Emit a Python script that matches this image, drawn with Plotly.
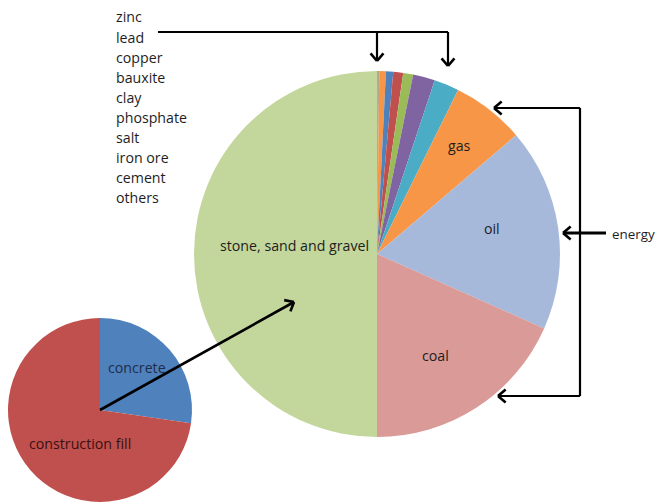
import math
import plotly.graph_objects as go

W, H = 657, 504

# Main pie: share of mined material (%), clockwise from 12 o'clock
minerals = ["zinc", "lead", "copper", "bauxite", "clay", "phosphate",
            "salt", "iron ore", "cement", "others"]
mineral_values = [0.05, 0.05, 0.05, 0.05, 0.58, 0.64, 0.87, 0.88, 1.94, 2.2]
mineral_colors = ["#7F7F7F", "#A5A08A", "#8C7A5B", "#B08E6B", "#F79646",
                  "#4F81BD", "#C0504D", "#9BBB59", "#8064A2", "#4BACC6"]

energy = ["gas", "oil", "coal"]
energy_values = [6.44, 17.92, 18.33]
energy_colors = ["#F79646", "#A7B9DB", "#D99A98"]

bulk = ["stone, sand and gravel"]
bulk_values = [50.0]
bulk_colors = ["#C3D69B"]

# Small pie: breakdown of stone, sand and gravel use
uses = ["concrete", "construction fill"]
use_values = [27.3, 72.7]
use_colors = ["#4F81BD", "#C0504D"]


def px(x):
    return x / W


def py(y):
    return 1 - y / H


fig = go.Figure()

fig.add_trace(go.Pie(
    labels=minerals + energy + bulk,
    values=mineral_values + energy_values + bulk_values,
    marker=dict(colors=mineral_colors + energy_colors + bulk_colors,
                line=dict(width=0)),
    sort=False, direction="clockwise", rotation=0,
    textinfo="none", hoverinfo="label+percent", showlegend=False,
    domain=dict(x=[px(194), px(560)], y=[py(437), py(71)]),
))

fig.add_trace(go.Pie(
    labels=uses, values=use_values,
    marker=dict(colors=use_colors, line=dict(width=0)),
    sort=False, direction="clockwise", rotation=0,
    textinfo="none", hoverinfo="label+percent", showlegend=False,
    domain=dict(x=[px(8), px(192)], y=[py(502), py(318)]),
))

FONT = "Open Sans, Lato, sans-serif"
annotations = []


def label(text, x, y, size=14.2, color="#1E1E1E", anchor="center"):
    annotations.append(dict(
        text=text, x=px(x), y=py(y), xref="paper", yref="paper",
        showarrow=False, xanchor=anchor, yanchor="middle",
        font=dict(family=FONT, size=size, color=color)))


# Mineral name list at top-left
for i, name in enumerate(minerals):
    label(name, 114, 17 + i * 20.1, anchor="left")

# Slice labels
label("gas", 459, 145)
label("oil", 492, 229)
label("coal", 435, 355)
label("stone, sand and gravel", 294, 245)
label("concrete", 137, 367, color="#1F2D4A")
label("construction fill", 80, 443, color="#3A1010")
label("energy", 610, 234, size=13.4, anchor="left")

shapes = []


def seg(x0, y0, x1, y1, w=2.2):
    shapes.append(dict(type="line", xref="paper", yref="paper",
                       x0=px(x0), y0=py(y0), x1=px(x1), y1=py(y1),
                       line=dict(color="black", width=w)))


def arrow_head(tx, ty, fx, fy, size=10, spread=40, w=2.6):
    # open chevron at (tx, ty), pointing away from (fx, fy)
    ang = math.atan2(ty - fy, tx - fx)
    for s in (-1, 1):
        a = ang + math.pi + s * math.radians(spread)
        seg(tx, ty, tx + size * math.cos(a), ty + size * math.sin(a), w)


# Bracket pointing at the small mineral slices
seg(158, 32, 448, 32)
seg(377, 32, 377, 61)
arrow_head(377, 61, 377, 32)
seg(448, 32, 448, 66)
arrow_head(448, 66, 448, 32)

# Energy bracket
seg(580, 108, 580, 396)
seg(580, 108, 494, 108)
arrow_head(494, 108, 580, 108)
seg(580, 396, 498, 396)
arrow_head(498, 396, 580, 396)
seg(606, 233, 563, 233, 2.8)
arrow_head(563, 233, 606, 233)

# Link from small pie centre into the stone slice
seg(100, 410, 294, 302, 2.6)
arrow_head(294, 302, 100, 410)

fig.update_layout(
    width=W, height=H,
    margin=dict(l=0, r=0, t=0, b=0),
    paper_bgcolor="white", plot_bgcolor="white",
    annotations=annotations, shapes=shapes,
)

fig.write_html("out.html")
